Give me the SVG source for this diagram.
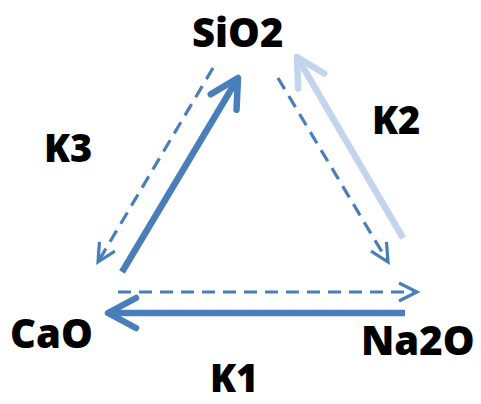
<svg xmlns="http://www.w3.org/2000/svg" width="481" height="404" viewBox="0 0 481 404">
  <style>
    .lbl { font-family: "Open Sans", Lato, "Liberation Sans", sans-serif; font-weight: 800; fill: #000; font-size: 38px; }
    .node { font-size: 40px; }
    .solid { fill: none; stroke: #4A7EBB; stroke-width: 6.5; stroke-linecap: butt; }
    .light { fill: none; stroke: #C3D5EE; stroke-width: 6.5; stroke-linecap: butt; }
    .dash { fill: none; stroke: #4A7EBB; stroke-width: 3.2; stroke-dasharray: 13 8; }
  </style>
  <defs>
    <marker id="headSolid" markerUnits="userSpaceOnUse" orient="auto" refX="0" refY="0" markerWidth="60" markerHeight="60" overflow="visible">
      <path d="M -28 -15 L 0 0 L -28 15" fill="none" stroke="#4A7EBB" stroke-width="6.5" stroke-linecap="round" stroke-linejoin="round"/>
    </marker>
    <marker id="headLight" markerUnits="userSpaceOnUse" orient="auto" refX="0" refY="0" markerWidth="60" markerHeight="60" overflow="visible">
      <path d="M -28 -15 L 0 0 L -28 15" fill="none" stroke="#C3D5EE" stroke-width="6.5" stroke-linecap="round" stroke-linejoin="round"/>
    </marker>
    <marker id="headDash" markerUnits="userSpaceOnUse" orient="auto" refX="0" refY="0" markerWidth="40" markerHeight="40" overflow="visible">
      <path d="M -18 -9 L 0 0 L -18 9" fill="none" stroke="#4A7EBB" stroke-width="3.2" stroke-linecap="butt" stroke-linejoin="miter"/>
    </marker>
  </defs>
  <g id="connectors">
    <path id="k3-solid" class="solid" d="M 122 272 L 238 78" marker-end="url(#headSolid)"/>
    <path id="k3-dash" class="dash" d="M 213 68 L 98 262" marker-end="url(#headDash)"/>
    <path id="k2-light" class="light" d="M 403 238 L 297 57" marker-end="url(#headLight)"/>
    <path id="k2-dash" class="dash" d="M 278 78 L 388 262" marker-end="url(#headDash)"/>
    <path id="k1-dash" class="dash" d="M 118 292 L 417 292" marker-end="url(#headDash)"/>
    <path id="k1-solid" class="solid" d="M 405 313 L 108 313" marker-end="url(#headSolid)"/>
  </g>
  <g id="node-sio2"><text class="lbl node" x="192" y="47">SiO2</text></g>
  <g id="node-cao"><text class="lbl node" x="10" y="348">CaO</text></g>
  <g id="node-na2o"><text class="lbl node" x="361" y="355">Na2O</text></g>
  <g id="label-k1"><text class="lbl" x="210" y="392">K1</text></g>
  <g id="label-k2"><text class="lbl" x="372" y="134">K2</text></g>
  <g id="label-k3"><text class="lbl" x="44" y="162">K3</text></g>
</svg>
